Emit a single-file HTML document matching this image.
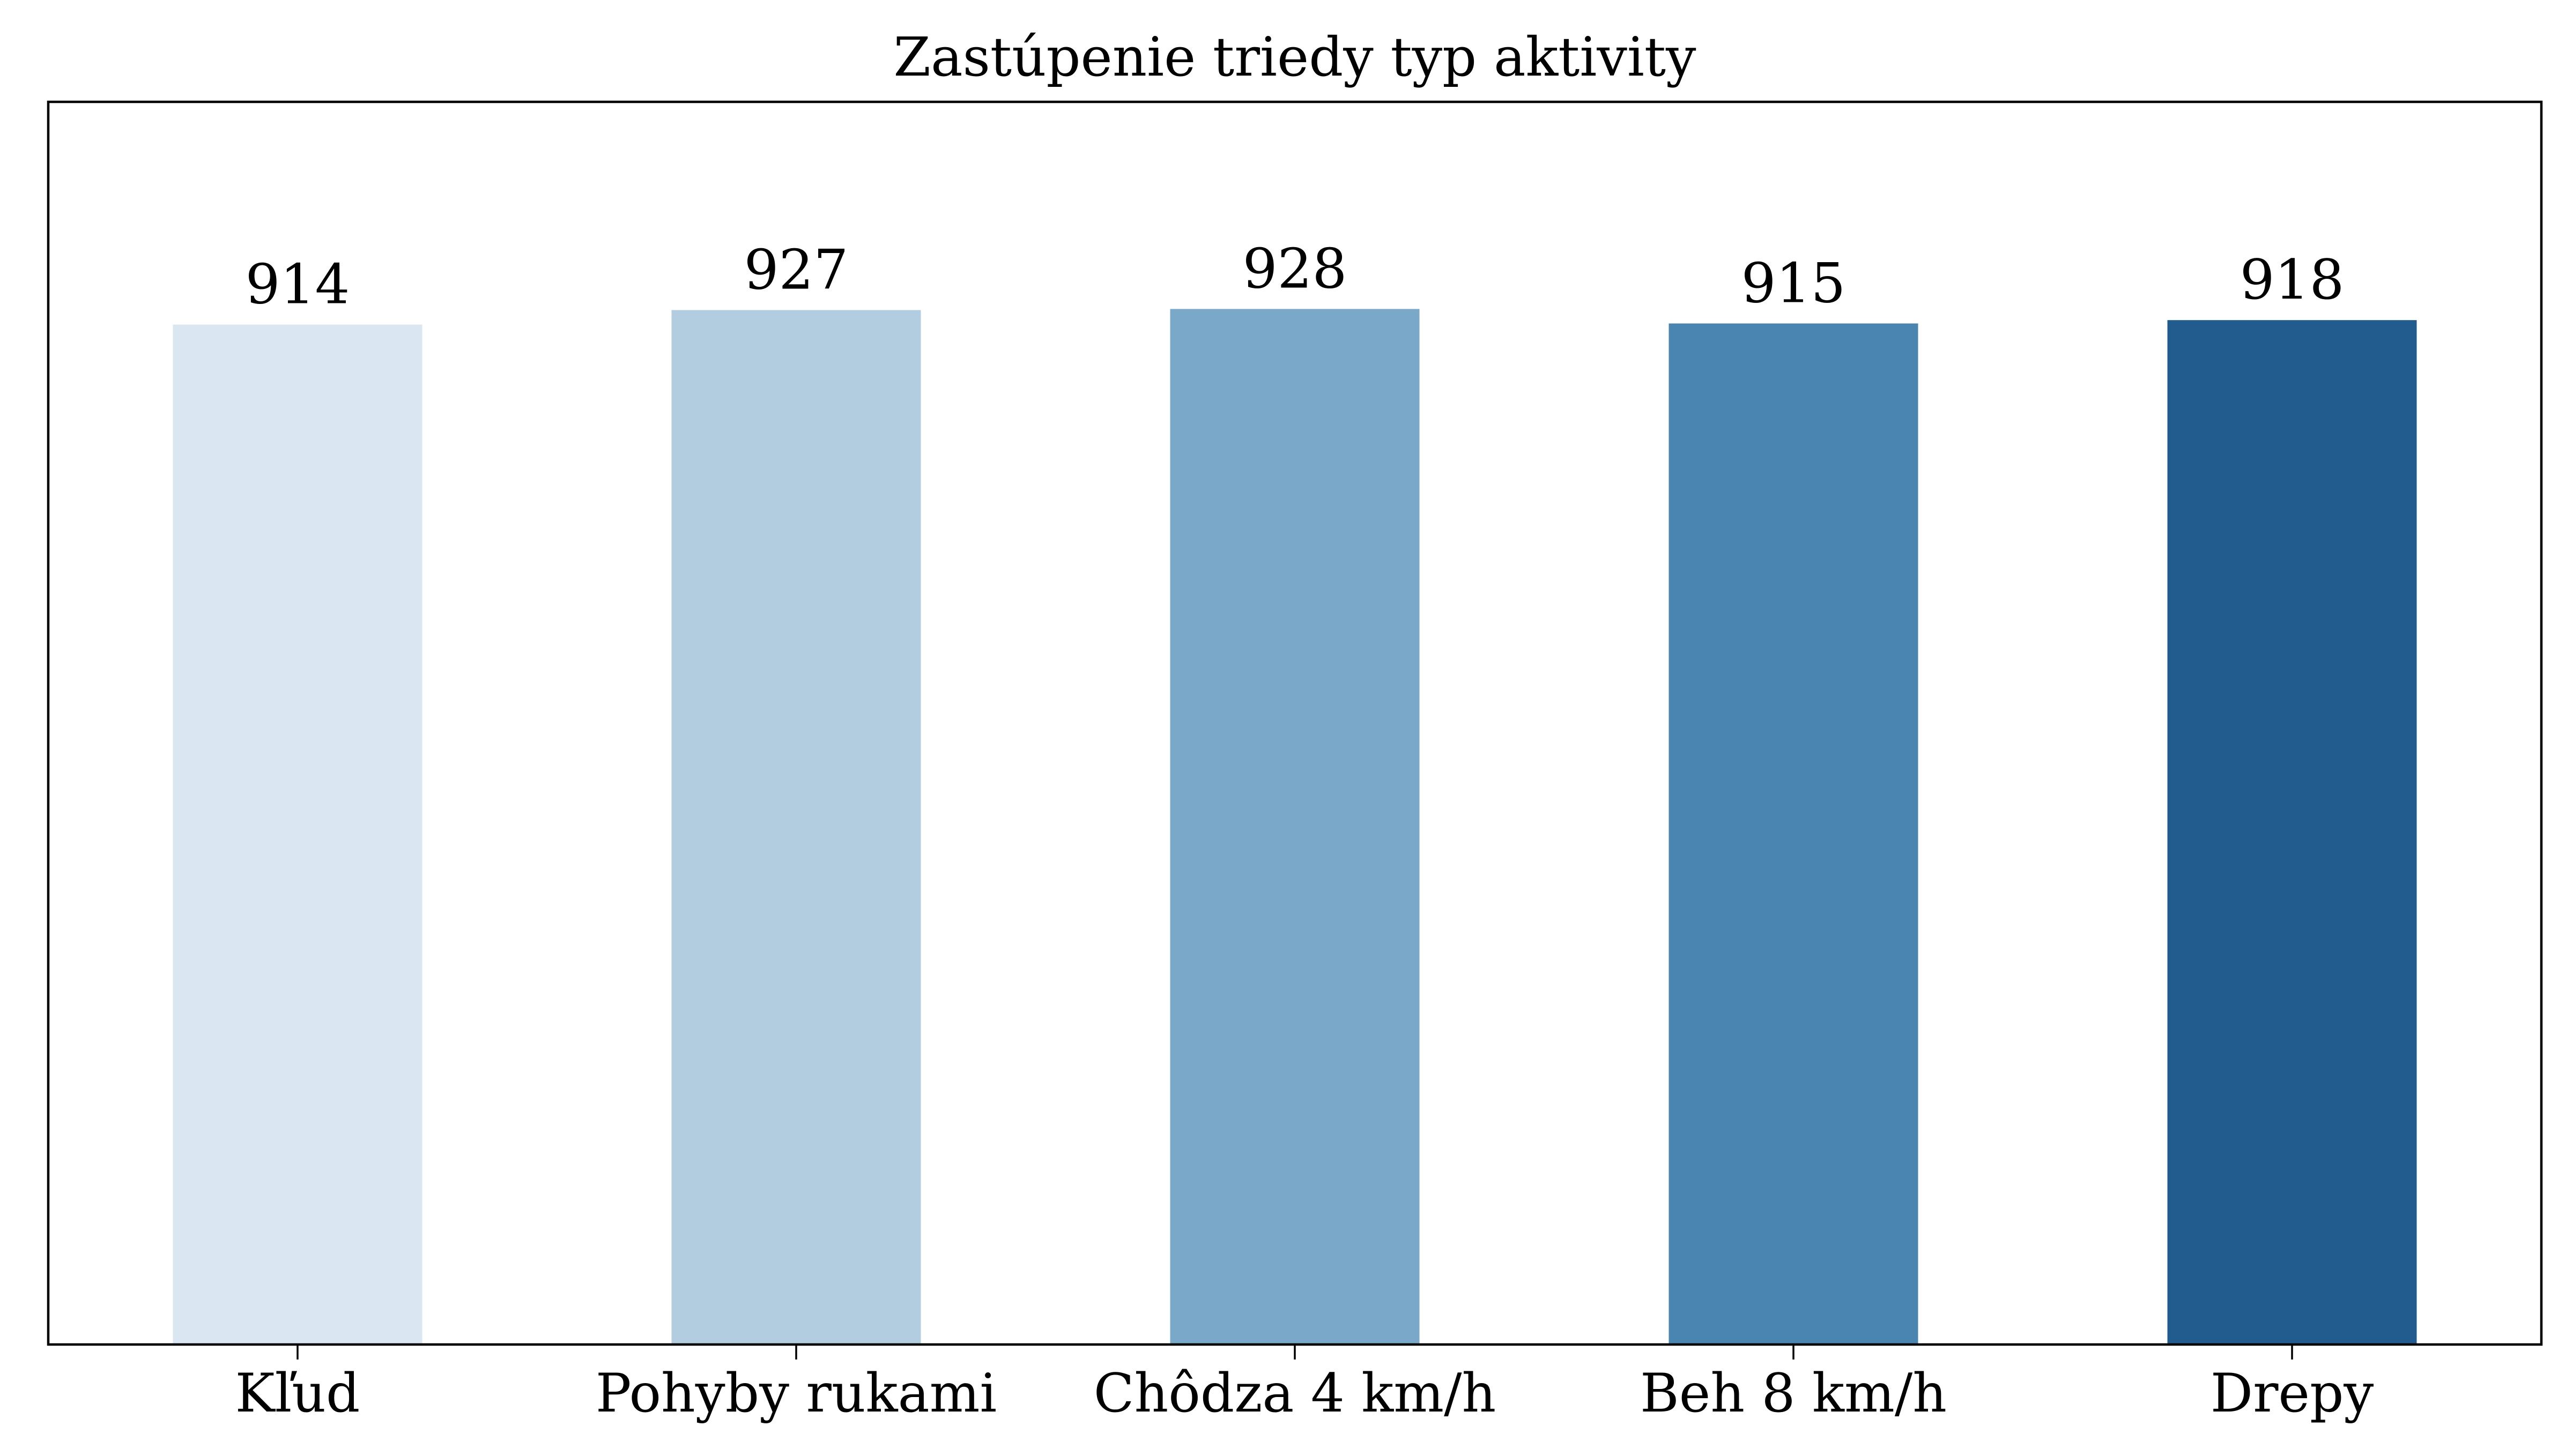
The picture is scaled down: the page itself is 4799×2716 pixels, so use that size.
<!DOCTYPE html>
<html><head><meta charset="utf-8"><style>html,body{margin:0;padding:0;background:#fff}svg{display:block}</style></head>
<body>
<svg id="chart" width="4799" height="2716" viewBox="0 0 4799 2716" xmlns="http://www.w3.org/2000/svg" font-family="'DejaVu Serif','Liberation Serif',serif">
<rect width="4799" height="2716" fill="#fff"/>
<text x="2415" y="141" font-size="100" text-anchor="middle">Zastúpenie triedy typ aktivity</text>
<g id="bars"></g>
<rect x="90" y="190" width="4650" height="2318" fill="none" stroke="#000" stroke-width="4.5"/>
</svg>
<script>
const categories = ["Kľud","Pohyby rukami","Chôdza 4 km/h","Beh 8 km/h","Drepy"];
const counts = [914,927,928,915,918];
const colors = ["#dae6f1","#b3cde0","#79a8c8","#4a84b0","#225b8e"];
const L=90,R=4740,T=190,B=2508;
const ymax=Math.max(...counts)*1.2;
const n=categories.length;
const step=(R-L)/n;
function xs(i){return L+step*(i+0.5);}
function ys(v){return B-(B-T)*v/ymax;}
const bw=step*0.5;
const g=document.getElementById('bars');
const NS='http://www.w3.org/2000/svg';
categories.forEach((c,i)=>{
  const r=document.createElementNS(NS,'rect');
  r.setAttribute('x',xs(i)-bw/2);r.setAttribute('y',ys(counts[i]));
  r.setAttribute('width',bw);r.setAttribute('height',B-ys(counts[i]));
  r.setAttribute('fill',colors[i]);
  
  
  g.appendChild(r);
  const t=document.createElementNS(NS,'text');
  t.setAttribute('x',xs(i));t.setAttribute('y',ys(counts[i])-40);
  t.setAttribute('font-size','102');t.setAttribute('text-anchor','middle');
  t.textContent=counts[i];
  
  
  g.appendChild(t);
  const tk=document.createElementNS(NS,'line');
  tk.setAttribute('x1',xs(i));tk.setAttribute('x2',xs(i));
  tk.setAttribute('y1',B);tk.setAttribute('y2',B+28);
  tk.setAttribute('stroke','#000');tk.setAttribute('stroke-width','3.5');
  
  
  g.appendChild(tk);
  const lb=document.createElementNS(NS,'text');
  lb.setAttribute('x',xs(i));lb.setAttribute('y',2633);
  lb.setAttribute('font-size','99');lb.setAttribute('text-anchor','middle');
  lb.textContent=c;
  
  
  g.appendChild(lb);
});
</script>
</body></html>
